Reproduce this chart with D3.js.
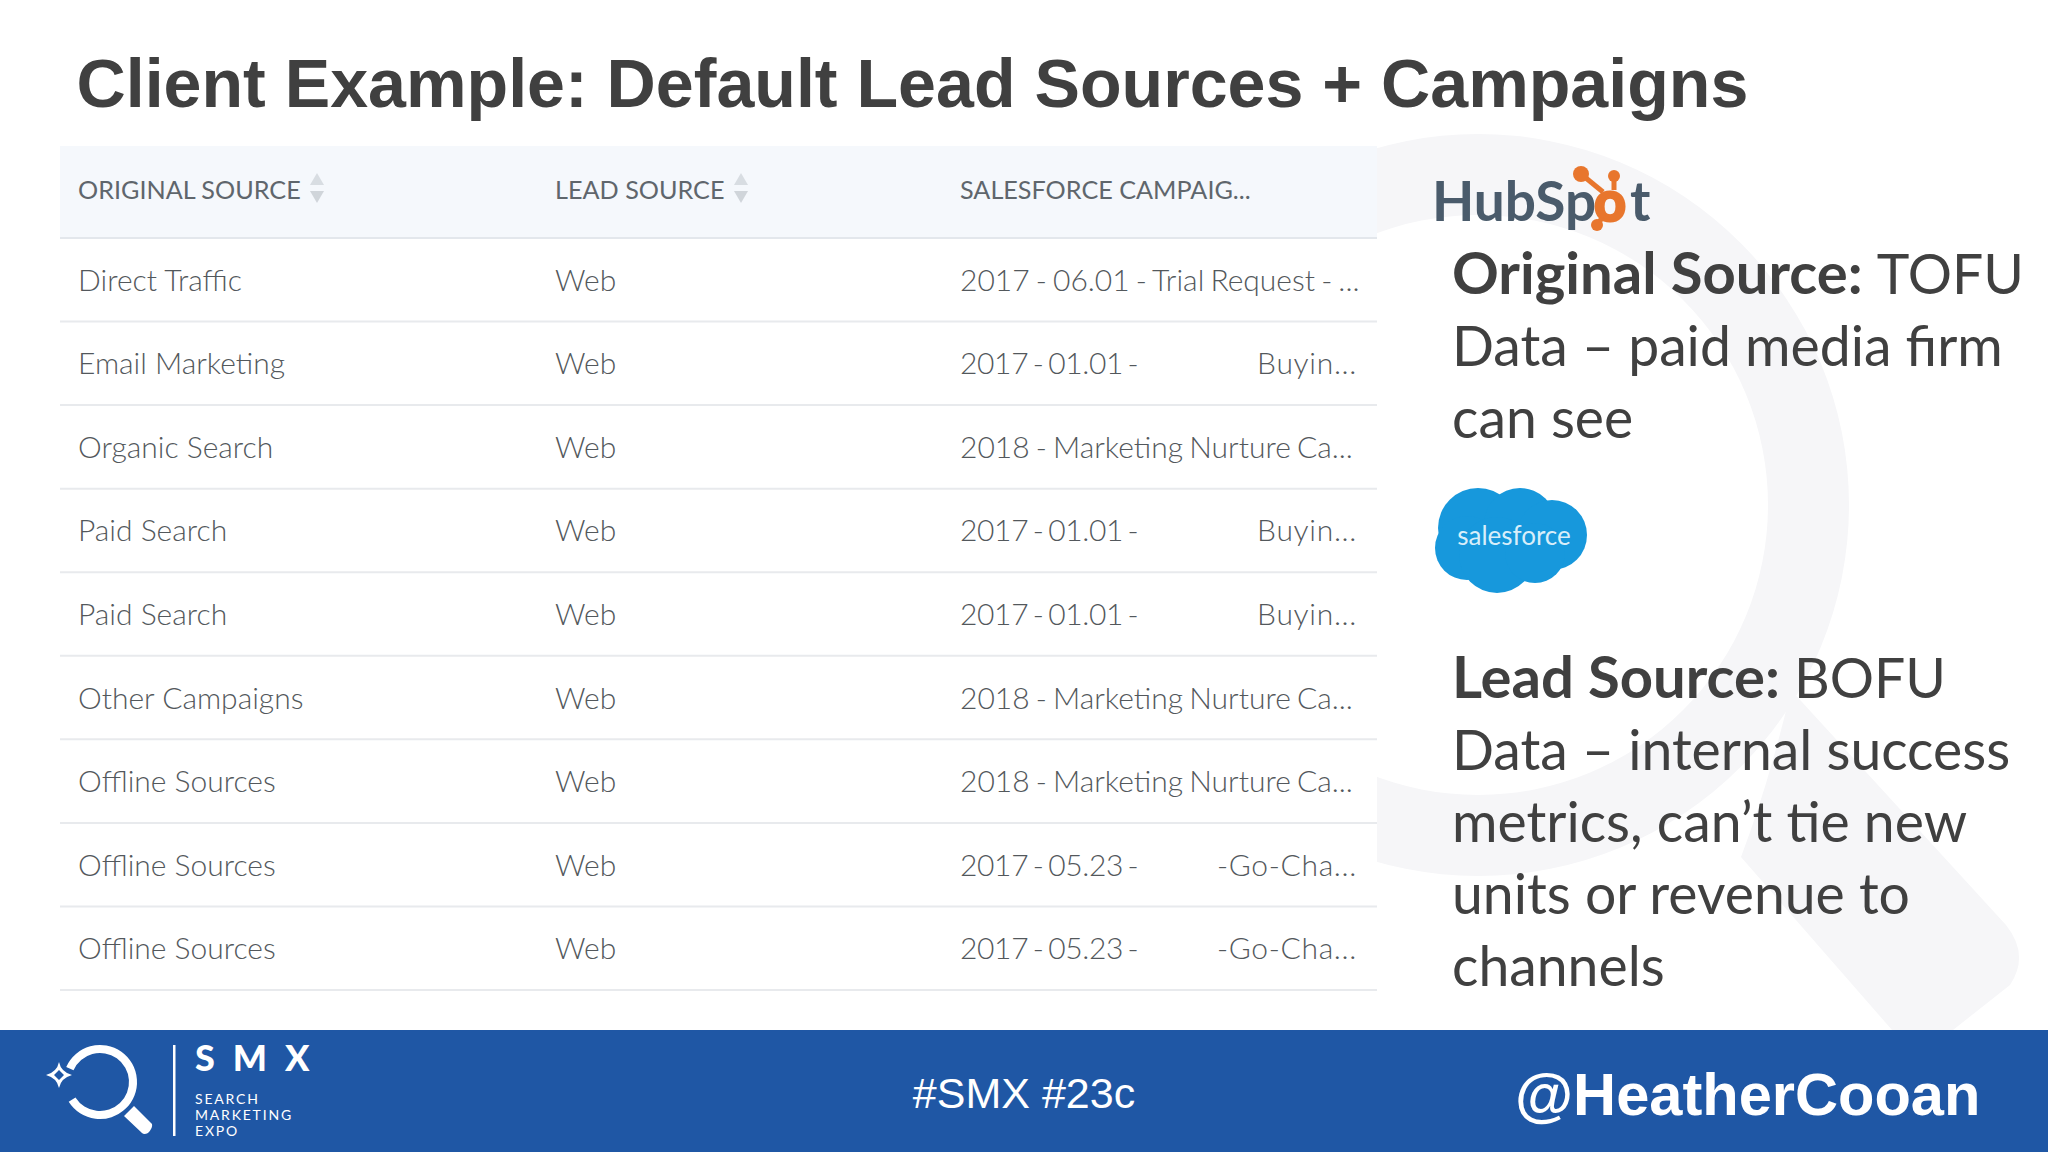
<!DOCTYPE html>
<html><head><meta charset="utf-8">
<script src="https://cdnjs.cloudflare.com/ajax/libs/d3/7.8.5/d3.min.js"></script>
<style>html,body{margin:0;padding:0;background:#fff}svg{display:block}</style></head>
<body><svg id="c" width="2048" height="1152"></svg>
<script>
const titleText = "Client Example: Default Lead Sources + Campaigns";
const columns = ["ORIGINAL SOURCE", "LEAD SOURCE", "SALESFORCE CAMPAIG..."];
const originalSource = ["Direct Traffic","Email Marketing","Organic Search","Paid Search","Paid Search","Other Campaigns","Offline Sources","Offline Sources","Offline Sources"];
const leadSource = ["Web","Web","Web","Web","Web","Web","Web","Web","Web"];
const campaignStart = ["2017 - 06.01 - Trial Request - ...","2017 - 01.01 -","2018 - Marketing Nurture Ca...","2017 - 01.01 -","2017 - 01.01 -","2018 - Marketing Nurture Ca...","2018 - Marketing Nurture Ca...","2017 - 05.23 -","2017 - 05.23 -"];
const campaignEnd = ["","Buyin...","","Buyin...","Buyin...","","","-Go-Cha...","-Go-Cha..."];
const noteTop = [[["Original Source: ",700],["TOFU",400]],[["Data – paid media firm",400]],[["can see",400]]];
const noteBottom = [[["Lead Source: ",700],["BOFU",400]],[["Data – internal success",400]],[["metrics, can’t tie new",400]],[["units or revenue to",400]],[["channels",400]]];
const ink = "#404040", rowInk = "#53585c", blue = "#1f57a5";
const svg = d3.select("#c");
const wm = svg.append("g").attr("fill","#f6f6f8");
const arc = d3.arc();
wm.append("path").attr("transform","translate(1478,505)").attr("d",arc({innerRadius:290,outerRadius:371,startAngle:0,endAngle:2*Math.PI}));
wm.append("path").attr("d","M1741,857 L1892,1030 L1953,1030 L2010,985 Q2030,955 2006,925 L1791,690 Q1770,780 1741,857Z");

svg.append("text").text(titleText).attr("x",76.5).attr("y",107).attr("fill",ink)
  .attr("font-family","Liberation Sans").attr("font-weight",700).attr("font-size",68.15);

// table
const y = d3.scaleBand().domain(d3.range(originalSource.length)).range([238,990]);
const colX = d3.scaleOrdinal().domain([0,1,2]).range([78,555,960]);
const table = svg.append("g").attr("font-family","Lato").attr("font-weight",300);
table.append("rect").attr("x",60).attr("y",146).attr("width",1317).attr("height",844).attr("fill","#fff");
table.append("rect").attr("x",60).attr("y",146).attr("width",1317).attr("height",92).attr("fill","#f5f8fc");
table.append("line").attr("x1",60).attr("x2",1377).attr("y1",238).attr("y2",238).attr("stroke","#e3e7ec").attr("stroke-width",2);
table.selectAll("text.h").data(columns).join("text").attr("class","h").text(d=>d)
  .attr("x",(d,i)=>colX(i)).attr("y",199).attr("font-size",25.2).attr("font-weight",400).attr("fill","#5f666c");
const arrowX = [317,741];
arrowX.forEach(x=>{
  const tri = d3.symbol().type(d3.symbolTriangle).size(85);
  table.append("path").attr("d",tri()).attr("transform",`translate(${x},181)`).attr("fill","#d8dde2");
  table.append("path").attr("d",tri()).attr("transform",`translate(${x},195) rotate(180)`).attr("fill","#d0d5da");
});
const rows = table.selectAll("g.r").data(originalSource.map((d,i)=>i)).join("g").attr("class","r")
  .attr("transform",i=>`translate(0,${y(i)})`);
rows.append("line").attr("x1",60).attr("x2",1377).attr("y1",y.bandwidth()).attr("y2",y.bandwidth()).attr("stroke","#e8eaed").attr("stroke-width",2);
const by = y.bandwidth()/2+11;
rows.append("text").text(i=>originalSource[i]).attr("x",colX(0)).attr("y",by).attr("font-size",30).attr("fill",rowInk);
rows.append("text").text(i=>leadSource[i]).attr("x",colX(1)).attr("y",by).attr("font-size",30).attr("fill",rowInk);
rows.append("text").text(i=>campaignStart[i]).attr("x",colX(2)).attr("y",by).attr("font-size",30).attr("fill",rowInk)
  .attr("word-spacing",i=>campaignEnd[i]?-3.2:-2).attr("letter-spacing",i=>campaignEnd[i]?-0.35:0);
rows.append("text").text(i=>campaignEnd[i]).attr("x",1357).attr("y",by).attr("text-anchor","end").attr("font-size",30).attr("fill",rowInk).attr("letter-spacing",0.7);

// notes
function note(lines, top){
  const g = svg.append("g").attr("font-family","Lato").attr("font-size",55.3).attr("fill",ink);
  g.selectAll("text").data(lines).join("text").attr("x",1452).attr("y",(d,i)=>top+i*72)
   .selectAll("tspan").data(d=>d).join("tspan").text(d=>d[0]).attr("font-weight",d=>d[1])
   .attr("font-size",d=>d[1]===700?58:null);
}
note(noteTop,294); note(noteBottom,698);

// HubSpot
const hs = svg.append("g");
const hst = hs.append("text").attr("x",1432).attr("y",221).attr("font-family","Lato").attr("font-weight",700).attr("font-size",55).attr("fill","#4a5b6b");
const hs1 = hst.append("tspan").text("HubSp");
const hs2 = hst.append("tspan").text("o").attr("fill","#e8762d").attr("stroke","#e8762d").attr("stroke-width",3);
const oW = hs2.node().getComputedTextLength();
hs2.attr("x",1610-oW/2);
hst.append("tspan").text("t").attr("x",1630);
hs.append("g").attr("stroke","#e8762d").attr("stroke-width",5).selectAll("line")
  .data([[1603,192,1581,174],[1614,190,1614,176],[1602,218,1597,225]]).join("line")
  .attr("x1",d=>d[0]).attr("y1",d=>d[1]).attr("x2",d=>d[2]).attr("y2",d=>d[3]);
hs.append("g").attr("fill","#e8762d").selectAll("circle").data([[1581,174,8],[1614,176,6],[1597,225,6]]).join("circle")
  .attr("cx",d=>d[0]).attr("cy",d=>d[1]).attr("r",d=>d[2]);

// Salesforce
svg.append("g").attr("fill","#1798dc").selectAll("circle")
  .data([[1478,528,40],[1467,548,32],[1520,524,36],[1552,535,35],[1497,555,38],[1535,553,30]]).join("circle")
  .attr("cx",d=>d[0]).attr("cy",d=>d[1]).attr("r",d=>d[2]);
svg.append("text").text("salesforce").attr("x",1514).attr("y",545).attr("text-anchor","middle")
  .attr("font-family","Lato").attr("font-size",26).attr("font-weight",400).attr("fill","#d8eefa");

// footer
const f = svg.append("g");
f.append("rect").attr("x",0).attr("y",1030).attr("width",2048).attr("height",122).attr("fill",blue);
f.append("text").text("#SMX #23c").attr("x",1024).attr("y",1108).attr("text-anchor","middle")
  .attr("font-family","Liberation Sans").attr("font-size",43).attr("fill","#fff");
f.append("text").text("@HeatherCooan").attr("x",1515).attr("y",1115)
  .attr("font-family","Liberation Sans").attr("font-weight",700).attr("font-size",59.6).attr("fill","#fff");
const logo = f.append("g").attr("fill","#fff");
logo.append("path").attr("transform","translate(100,1082)").attr("d",arc({innerRadius:29,outerRadius:37,startAngle:-1.15,endAngle:4.15,cornerRadius:4}));
logo.append("path").attr("d","M127,1113 L134,1106 L152,1124 Q153,1128 148,1133 Q144,1135 142,1133 L124,1116Z");
logo.append("path").attr("transform","translate(59,1075)").attr("fill-rule","evenodd").attr("d","M0,-13 Q2,-3 13,0 Q2,3 0,13 Q-2,3 -13,0 Q-2,-3 0,-13Z M0,-5 L-5,0 L0,5 L5,0Z");
logo.append("rect").attr("x",173).attr("y",1045).attr("width",2.5).attr("height",91);
logo.append("text").text("SMX").attr("x",195).attr("y",1071).attr("font-family","Lato").attr("font-weight",900).attr("font-size",36).attr("letter-spacing",18);
logo.selectAll("text.s").data(["SEARCH","MARKETING","EXPO"]).join("text").attr("class","s").text(d=>d)
  .attr("x",195).attr("y",(d,i)=>1104+i*16).attr("font-family","Lato").attr("font-size",14).attr("font-weight",400).attr("letter-spacing",1.8);
</script></body></html>
